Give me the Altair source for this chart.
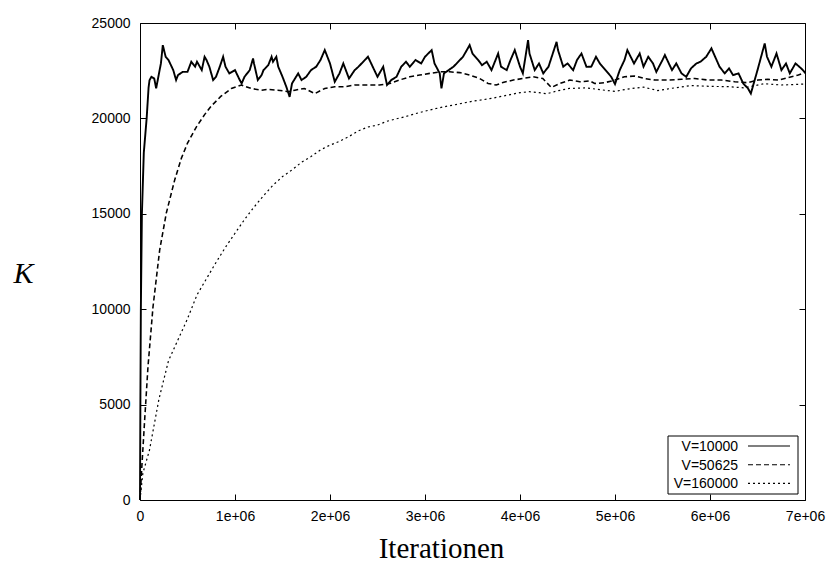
import altair as alt
import pandas as pd

# ---------------- data (iterations in units of 1e6) ----------------
SERIES = ["V=10000", "V=50625", "V=160000"]

ITER_V10000 = [0, 0.004, 0.009, 0.02, 0.04, 0.07, 0.09,
    0.1, 0.12, 0.15, 0.17, 0.2, 0.22, 0.24, 0.27, 0.3, 0.35, 0.38, 0.4, 0.45, 0.5,
    0.54, 0.58, 0.6, 0.65, 0.68, 0.7, 0.73, 0.77, 0.8, 0.84, 0.875, 0.9, 0.94, 1.0,
    1.05, 1.07, 1.1, 1.155, 1.19, 1.2, 1.24, 1.28, 1.3, 1.35, 1.385, 1.4, 1.435, 1.455,
    1.5, 1.54, 1.575, 1.6, 1.665, 1.7, 1.75, 1.8, 1.855, 1.9, 1.945, 2.0, 2.05, 2.1,
    2.14, 2.2, 2.26, 2.3, 2.4, 2.5, 2.56, 2.6, 2.645, 2.7, 2.75, 2.8, 2.84, 2.9, 2.96,
    3.0, 3.07, 3.1, 3.155, 3.173, 3.2, 3.3, 3.4, 3.47, 3.5, 3.56, 3.6, 3.65, 3.7, 3.77,
    3.8, 3.86, 3.9, 3.945, 4.0, 4.03, 4.085, 4.1, 4.155, 4.2, 4.245, 4.3, 4.385, 4.4,
    4.455, 4.5, 4.56, 4.6, 4.647, 4.7, 4.75, 4.8, 4.84, 4.9, 4.96, 5.0, 5.05, 5.1, 5.13,
    5.2, 5.26, 5.3, 5.35, 5.4, 5.435, 5.5, 5.525, 5.6, 5.645, 5.7, 5.75, 5.8, 5.857, 5.9,
    5.96, 6.015, 6.1, 6.155, 6.2, 6.243, 6.3, 6.35, 6.4, 6.43, 6.5, 6.576, 6.6, 6.646,
    6.7, 6.752, 6.8, 6.84, 6.9, 6.96, 7.0]
K_V10000 = [0, 5000, 10000, 15000, 18200, 20000, 21600,
    22000, 22180, 22090, 21570, 22360, 22880, 23840, 23230, 23060, 22530, 22010, 22270, 22440, 22440,
    22970, 22710, 22970, 22530, 23230, 23060, 22710, 22010, 22180, 22710, 23230, 22710, 22360, 22530,
    22010, 21830, 22180, 22530, 23140, 22880, 22010, 22270, 22530, 22790, 23230, 22970, 23230, 22710,
    22180, 21660, 21130, 21830, 22360, 22010, 22180, 22530, 22710, 23060, 23580, 22880, 21920, 22360,
    22880, 22090, 22530, 22710, 23230, 22180, 22710, 21750, 22010, 22180, 22710, 22970, 22710, 23060, 22880,
    23230, 23580, 22880, 22360, 21570, 22360, 22710, 23230, 23840, 23400, 23060, 22790, 22970, 22530, 23400,
    22710, 22530, 23060, 23580, 22710, 22360, 24100, 23400, 22530, 22880, 22360, 22710, 24010, 23580,
    22710, 22880, 22530, 23060, 23400, 22700, 22710, 23230, 22880, 22530, 22180, 21800, 22530, 23060, 23580,
    22880, 23400, 22710, 23230, 22880, 22440, 23060, 23320, 22530, 22880, 22360, 22180, 22620, 22880, 22970,
    23230, 23670, 22710, 22360, 22620, 22270, 22360, 21830, 21570, 21300, 22530, 23930, 23230, 22710,
    23400, 22530, 22880, 22360, 22880, 22620, 22400]

ITER_V50625 = [0, 0.02, 0.049, 0.084, 0.137, 0.207, 0.277, 0.365, 0.436, 0.5, 0.594, 0.68,
    0.751, 0.85, 0.962, 1.067, 1.17, 1.28, 1.35, 1.45, 1.56, 1.63, 1.73, 1.84, 1.945,
    2.05, 2.155, 2.26, 2.37, 2.42, 2.52, 2.63, 2.73, 2.84, 2.945, 3.05, 3.155, 3.26,
    3.366, 3.47, 3.576, 3.664, 3.75, 3.82, 3.93, 4.03, 4.14, 4.24, 4.33, 4.42, 4.524,
    4.63, 4.735, 4.786, 4.89, 5.0, 5.1, 5.207, 5.313, 5.42, 5.56, 5.7, 5.84, 5.98, 6.12,
    6.26, 6.4, 6.506, 6.61, 6.72, 6.82, 6.93, 7.0]
K_V50625 = [0, 1800, 4190, 6990, 10130, 13100, 15040, 16770, 17920, 18700, 19560, 20200,
    20650, 21150, 21570, 21750, 21570, 21480, 21520, 21480, 21400, 21480, 21570, 21300, 21570,
    21660, 21660, 21750, 21750, 21750, 21750, 21830, 22010, 22180, 22270, 22360, 22440, 22440,
    22400, 22270, 22090, 21830, 21750, 21880, 22010, 22090, 22180, 22090, 21620, 21830, 22010,
    21920, 21970, 21830, 21870, 22010, 22180, 22220, 22090, 22010, 22010, 22050, 22090, 22010, 22010,
    21920, 21870, 22010, 22050, 22010, 22140, 22270, 22400]

ITER_V160000 = [0, 0.03, 0.1, 0.2, 0.3, 0.4, 0.5, 0.6, 0.7, 0.8, 0.9, 1.0, 1.1, 1.2, 1.3,
    1.4, 1.5, 1.6, 1.7, 1.8, 1.9, 2.0, 2.1, 2.2, 2.3, 2.4, 2.5, 2.6, 2.7, 2.8, 2.9, 3.0,
    3.1, 3.2, 3.3, 3.4, 3.5, 3.6, 3.7, 3.8, 3.9, 4.0, 4.1, 4.2, 4.28, 4.4, 4.52, 4.7,
    4.85, 5.0, 5.15, 5.3, 5.45, 5.6, 5.8, 6.0, 6.2, 6.36, 6.57, 6.75, 7.0]
K_V160000 = [0, 1400, 2620, 5300, 7300, 8400, 9500, 10750, 11600, 12450, 13250, 13980, 14700,
    15350, 15950, 16500, 16950, 17300, 17700, 18000, 18350, 18600, 18800, 19050, 19350, 19550,
    19650, 19850, 19980, 20100, 20250, 20380, 20500, 20610, 20700, 20800, 20900, 20970, 21050,
    21150, 21250, 21350, 21400, 21350, 21290, 21450, 21570, 21600, 21500, 21420, 21550, 21640,
    21460, 21580, 21720, 21680, 21660, 21600, 21820, 21750, 21800]

X_TICKS = [0, 1e6, 2e6, 3e6, 4e6, 5e6, 6e6, 7e6]
X_TICK_LABELS = ["0", "1e+06", "2e+06", "3e+06", "4e+06", "5e+06", "6e+06", "7e+06"]
Y_TICKS = [0, 5000, 10000, 15000, 20000, 25000]

X_TITLE = "Iterationen"
Y_TITLE = "K"
DASHES = [[1, 0], [5, 3], [2, 3]]
WIDTHS = [1.9, 1.2, 1.1]
LEGEND_WIDTHS = [1.1, 1.1, 1.1]

# ---------------- build table ----------------
rows = []
for name, xs, ys in [("V=160000", ITER_V160000, K_V160000),
                     ("V=50625", ITER_V50625, K_V50625),
                     ("V=10000", ITER_V10000, K_V10000)]:
    for xv, yv in zip(xs, ys):
        rows.append({"series": name, "iter": xv * 1e6, "K": yv})
df = pd.DataFrame(rows)

label_expr = ""
for v, lab in zip(X_TICKS, X_TICK_LABELS):
    label_expr += f"datum.value == {int(v)} ? '{lab}' : "
label_expr += "''"

W, H = 665, 477
x_scale = alt.Scale(domain=[0, 7e6], nice=False, zero=False)
y_scale = alt.Scale(domain=[0, 25000], nice=False)

lines = alt.Chart(df).mark_line(color="black").encode(
    x=alt.X("iter:Q", scale=x_scale,
            axis=alt.Axis(values=X_TICKS, labelExpr=label_expr, offset=-6, tickSize=6,
                          domain=False, grid=False, labelPadding=9, labelFlush=False,
                          labelOverlap=False, title=X_TITLE, titleFont="Liberation Serif",
                          titleFontSize=29, titleFontWeight="normal", titleX=301, titleY=63,
                          titleBaseline="alphabetic", titleAlign="center")),
    y=alt.Y("K:Q", scale=y_scale,
            axis=alt.Axis(values=Y_TICKS, format="d", offset=-6, tickSize=6, domain=False,
                          grid=False, labelPadding=10, labelOverlap=False, labelFlush=False,
                          title=Y_TITLE, titleFont="Liberation Serif", titleFontSize=30,
                          titleFontStyle="italic", titleFontWeight="normal", titleAngle=0,
                          titleX=-123, titleY=250, titleAlign="center",
                          titleBaseline="middle")),
    strokeDash=alt.StrokeDash("series:N", scale=alt.Scale(domain=SERIES, range=DASHES),
                              legend=None),
    size=alt.Size("series:N", scale=alt.Scale(domain=SERIES, range=WIDTHS), legend=None),
    detail="series:N",
)

mirror = alt.Chart(df).mark_line(opacity=0).encode(
    x=alt.X("iter:Q", scale=x_scale,
            axis=alt.Axis(orient="top", values=X_TICKS, labels=False, offset=-6, tickSize=6,
                          domain=False, grid=False, title=None)),
    y=alt.Y("K:Q", scale=y_scale,
            axis=alt.Axis(orient="right", values=Y_TICKS, labels=False, offset=-6,
                          tickSize=6, domain=False, grid=False, title=None)),
    detail="series:N",
)

# legend (gnuplot style: label left, line sample right)
box = alt.Chart(pd.DataFrame({"a": [0]})).mark_rect(
    fill="white", stroke="black", strokeWidth=1).encode(
    x=alt.value(528), x2=alt.value(658), y=alt.value(413), y2=alt.value(471))

legend_layers = [box]
for i, name in enumerate(SERIES):
    yc = 423 + 18.7 * i
    legend_layers.append(
        alt.Chart(pd.DataFrame({"label": [name]})).mark_text(
            align="right", baseline="middle", font="Liberation Sans", fontSize=14,
            color="black").encode(text="label:N", x=alt.value(598), y=alt.value(yc + 1)))
    legend_layers.append(
        alt.Chart(pd.DataFrame({"label": [name]})).mark_rule(
            color="black", strokeWidth=LEGEND_WIDTHS[i], strokeDash=DASHES[i]).encode(
            x=alt.value(608), x2=alt.value(650), y=alt.value(yc)))

chart = alt.layer(lines, mirror, *legend_layers).resolve_scale(
    x="independent", y="independent"
).properties(
    width=W, height=H,
    padding={"left": 140, "top": 23, "right": 25, "bottom": 63},
    autosize=alt.AutoSizeParams(type="none"),
    background="white",
).configure_view(stroke="black", strokeWidth=1).configure_axis(
    labelFont="Liberation Sans", labelFontSize=14, labelColor="black",
    tickColor="black", tickWidth=1, titleColor="black",
)

chart.save("out.html", embed_options={"renderer": "svg", "actions": False})
